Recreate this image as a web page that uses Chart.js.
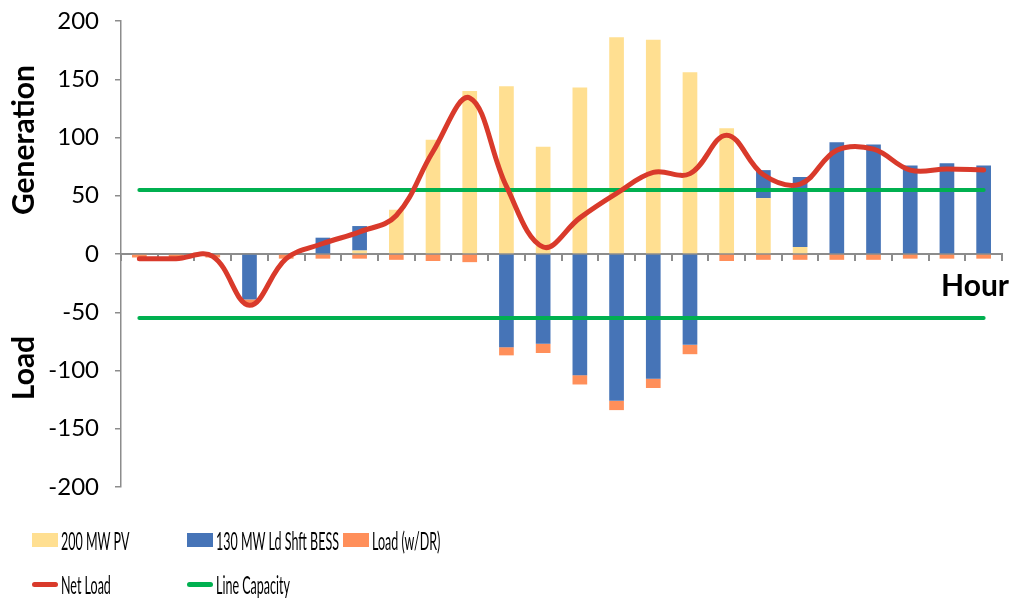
<!DOCTYPE html>
<html>
<head>
<meta charset="utf-8">
<script src="https://cdn.jsdelivr.net/npm/chart.js@4.4.1/dist/chart.umd.min.js"></script>
<style>
    body { margin: 0; background: #fff; }
    #wrap { position: relative; width: 1014px; height: 599px; font-family: Lato, 'Open Sans', sans-serif; color: #000; }
    #chart { position: absolute; left: 0; top: 0; }
    .ttl { position: absolute; font-weight: bold; font-size: 30px; white-space: nowrap; line-height: 1; }
    .rot { transform: translate(-50%, -50%) rotate(-90deg); }
    .leg { position: absolute; display: flex; align-items: center; height: 30px; white-space: nowrap; }
    .leg .sw { width: 26px; margin-right: 3px; flex: none; }
    .leg .txt { font-size: 25px; display: inline-block; transform: scaleX(0.5); transform-origin: left center; }
</style>
</head>
<body>
<div id="wrap">
    <canvas id="chart" width="1014" height="599"></canvas>
    <div class="ttl rot" style="left:22px; top:140px;">Generation</div>
    <div class="ttl rot" style="left:22px; top:368px;">Load</div>
    <div class="ttl" style="left:941px; top:269px;">Hour</div>
</div>
<script>
const hours = ['1', '2', '3', '4', '5', '6', '7', '8', '9', '10', '11', '12',
    '13', '14', '15', '16', '17', '18', '19', '20', '21', '22', '23', '24'];
const pvGen = [0, 0, 0, 0, 0, 0, 3, 38, 98, 140, 144, 92, 143, 186, 184, 156, 108, 48, 6, 0, 0, 0, 0, 0];
const bessShift = [0, 0, 0, -39, 0, 14, 21, 0, 0, 0, -80, -77, -104, -126, -107, -78, 0, 24, 60, 96, 94, 76, 78, 76];
const loadDR = [-3, -3, -3, -3, -4, -4, -4, -5, -6, -7, -7, -8, -8, -8, -8, -8, -6, -5, -5, -5, -5, -4, -4, -4];
const netLoad = [-4, -4, -2, -44, -4, 9, 19, 33, 88, 134, 58, 6, 31, 52, 70, 69, 102, 68, 60, 89, 90, 72, 73, 72];
const lineCapUpper = [55, 55, 55, 55, 55, 55, 55, 55, 55, 55, 55, 55, 55, 55, 55, 55, 55, 55, 55, 55, 55, 55, 55, 55];
const lineCapLower = [-55, -55, -55, -55, -55, -55, -55, -55, -55, -55, -55, -55, -55, -55, -55, -55, -55, -55, -55, -55, -55, -55, -55, -55];
const yTicks = [200, 150, 100, 50, 0, -50, -100, -150, -200];

const colors = {
    pv: '#FFDF91',
    bess: '#4674B7',
    load: '#FF8F5A',
    net: '#D93A2B',
    cap: '#00B050',
    axis: '#8C8C8C'
};

const ctx = document.getElementById('chart').getContext('2d');

const barBase = {
    type: 'bar',
    stack: 'bars',
    order: 2,
    barPercentage: 0.4,
    categoryPercentage: 1
};

const lineBase = {
    type: 'line',
    pointRadius: 0,
    borderCapStyle: 'round',
    fill: false
};

new Chart(ctx, {
    type: 'bar',
    data: {
        labels: hours,
        datasets: [
            Object.assign({}, barBase, { label: '200 MW PV', data: pvGen, backgroundColor: colors.pv }),
            Object.assign({}, barBase, { label: '130 MW Ld Shft BESS', data: bessShift, backgroundColor: colors.bess }),
            Object.assign({}, barBase, { label: 'Load (w/DR)', data: loadDR, backgroundColor: colors.load }),
            Object.assign({}, lineBase, {
                label: 'Net Load', data: netLoad, stack: 'net', order: 0,
                borderColor: colors.net, borderWidth: 5, tension: 0.38
            }),
            Object.assign({}, lineBase, {
                label: 'Line Capacity', data: lineCapUpper, stack: 'capUp', order: 1,
                borderColor: colors.cap, borderWidth: 4
            }),
            Object.assign({}, lineBase, {
                label: 'Line Capacity', data: lineCapLower, stack: 'capLow', order: 1,
                borderColor: colors.cap, borderWidth: 4
            })
        ]
    },
    options: {
        responsive: false,
        animation: false,
        layout: {
            padding: { left: 0, top: 21, right: 12, bottom: 112 }
        },
        plugins: {
            legend: { display: false },
            tooltip: { enabled: false }
        },
        scales: {
            x: {
                stacked: true,
                position: { y: 0 },
                afterFit: function (axis) {
                    axis.paddingLeft = 0;
                    axis.paddingRight = 0;
                },
                grid: {
                    offset: true,
                    drawOnChartArea: false,
                    drawTicks: true,
                    tickLength: 6,
                    color: colors.axis,
                    lineWidth: 2
                },
                border: { color: colors.axis, width: 2 },
                ticks: { display: false }
            },
            y: {
                stacked: true,
                min: -200,
                max: 200,
                afterBuildTicks: function (axis) {
                    axis.ticks = yTicks.map(v => ({ value: v }));
                },
                afterFit: function (axis) {
                    axis.width = 121;
                    axis.paddingTop = 0;
                    axis.paddingBottom = 0;
                },
                grid: {
                    drawOnChartArea: false,
                    drawTicks: true,
                    tickLength: 6,
                    color: colors.axis,
                    lineWidth: 1.5
                },
                border: { color: colors.axis, width: 1.5 },
                ticks: {
                    padding: 16,
                    color: '#000',
                    font: { family: 'Lato', size: 24 }
                }
            }
        }
    }
});

// legend laid out like the original (two rows, fixed columns)
const legendItems = [
    { text: '200 MW PV', color: colors.pv, kind: 'box', x: 32, y: 540 },
    { text: '130 MW Ld Shft BESS', color: colors.bess, kind: 'box', x: 187, y: 540 },
    { text: 'Load (w/DR)', color: colors.load, kind: 'box', x: 343, y: 540 },
    { text: 'Net Load', color: colors.net, kind: 'line', x: 32, y: 584 },
    { text: 'Line Capacity', color: colors.cap, kind: 'line', x: 187, y: 584 }
];

const wrap = document.getElementById('wrap');
legendItems.forEach(item => {
    const el = document.createElement('div');
    el.className = 'leg';
    el.style.left = item.x + 'px';
    el.style.top = (item.y - 15) + 'px';

    const sw = document.createElement('span');
    sw.className = 'sw';
    sw.style.background = item.color;
    if (item.kind === 'box') {
        sw.style.height = '14px';
    } else {
        sw.style.height = '5px';
        sw.style.borderRadius = '3px';
    }

    const txt = document.createElement('span');
    txt.className = 'txt';
    txt.textContent = item.text;

    el.appendChild(sw);
    el.appendChild(txt);
    wrap.appendChild(el);
});
</script>
</body>
</html>
